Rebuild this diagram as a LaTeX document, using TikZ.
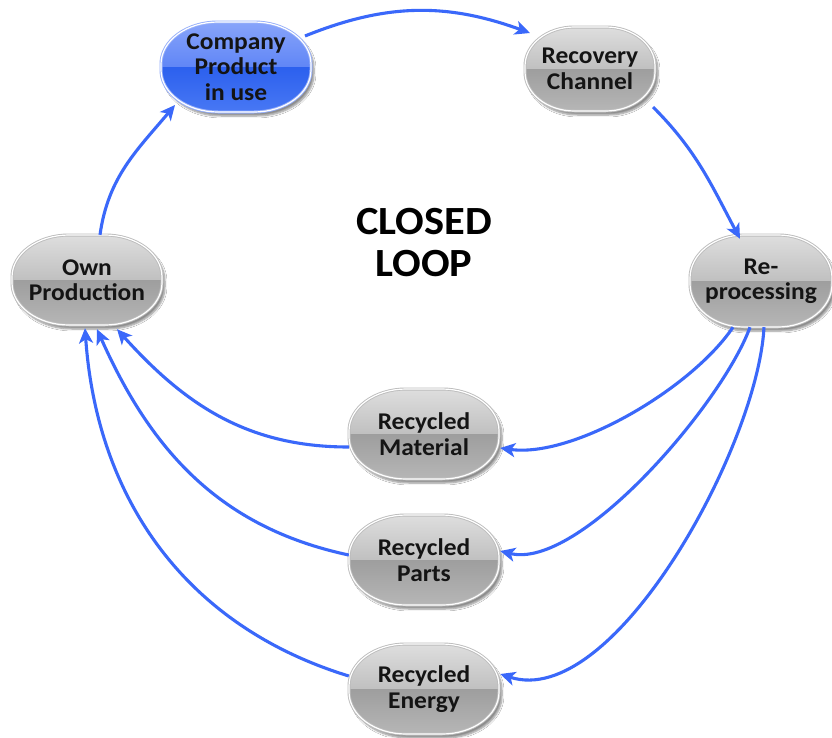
\documentclass[tikz,border=0pt]{standalone}
\usepackage{fontspec}
\setmainfont{Carlito}[FakeStretch=1.06]
\usetikzlibrary{shadows.blur,arrows.meta,calc}
\definecolor{arrowblue}{RGB}{58,104,250}
\definecolor{gA}{RGB}{222,222,222}
\definecolor{gB}{RGB}{192,192,192}
\definecolor{gC}{RGB}{158,158,158}
\definecolor{gD}{RGB}{182,182,182}
\definecolor{gRing}{RGB}{188,188,188}
\definecolor{bA}{RGB}{136,164,250}
\definecolor{bB}{RGB}{96,134,246}
\definecolor{bC}{RGB}{44,96,238}
\definecolor{bD}{RGB}{72,120,244}
\definecolor{bRing}{RGB}{150,175,250}
% oval outline centred at the origin: #1 half width, #2 half height
\newcommand\ovalshape[2]{(-#1+\orx,#2) -- (#1-\orx,#2)
 .. controls ({#1-0.448*\orx},#2) and (#1,{#2-0.448*\ory}) .. (#1,#2-\ory)
 -- (#1,-#2+\ory)
 .. controls (#1,{-#2+0.448*\ory}) and ({#1-0.448*\orx},-#2) .. (#1-\orx,-#2)
 -- (-#1+\orx,-#2)
 .. controls ({-#1+0.448*\orx},-#2) and (-#1,{-#2+0.448*\ory}) .. (-#1,-#2+\ory)
 -- (-#1,#2-\ory)
 .. controls (-#1,{#2-0.448*\ory}) and ({-#1+0.448*\orx},#2) .. (-#1+\orx,#2) -- cycle}
% #1 name, #2 x, #3 y, #4 half width, #5 half height, #6 colour set (g/b), #7 text
\newcommand\ovalbox[7]{%
 \begin{scope}[shift={(#2,#3)}]
  \pgfmathsetmacro\orx{0.76*#4}\pgfmathsetmacro\ory{#5-3}
  \path[fill=#6C, blur shadow={shadow xshift=3pt, shadow yshift=-4pt, shadow blur steps=6, shadow opacity=45}] \ovalshape{#4}{#5};
  \begin{scope}
   \clip \ovalshape{#4}{#5};
   \fill[top color=#6A, bottom color=#6B] (-#4,#5) rectangle (#4,0);
   \fill[top color=#6C, bottom color=#6D] (-#4,0) rectangle (#4,-#5);
  \end{scope}
  \draw[draw=#6Ring, line width=0.9pt, double=white, double distance=1.2pt] \ovalshape{#4}{#5};
 \end{scope}
 \node[boxtext, minimum width=2*#4, minimum height=2*#5] (#1) at (#2,#3) {#7};}
\tikzset{
  boxtext/.style={rectangle, inner sep=0pt, align=center, text=black!92,
    font=\fontsize{24}{25.5}\selectfont\bfseries},
  flow/.style={draw=arrowblue, line width=3.1pt, -{Stealth[length=15pt,width=14pt,inset=4pt]}}
}
\begin{document}
\begin{tikzpicture}[x=1pt,y=1pt]
\useasboundingbox[fill=white] (0,0) rectangle (832,-737);
\ovalbox{comp}{236}{-67}{75}{45}{b}{Company\\Product\\in use}
\ovalbox{rec}{590}{-69}{65}{42}{g}{Recovery\\Channel}
\ovalbox{own}{87}{-280}{75}{45}{g}{Own\\Production}
\ovalbox{rep}{761}{-281}{71}{46}{g}{Re-\\processing}
\ovalbox{mat}{424}{-434}{75}{45}{g}{Recycled\\Material}
\ovalbox{par}{424}{-560}{75}{45}{g}{Recycled\\Parts}
\ovalbox{ene}{424}{-689}{75}{45}{g}{Recycled\\Energy}
\node[font=\fontsize{40}{42}\selectfont\bfseries, align=center] (title) at (424,-243) {CLOSED\\LOOP};

\draw[flow] ($(own.north)+(13,0)$) to[out=82, in=-130] ($(comp.center)+(-61,-38)$);
\draw[flow] ($(comp.center)+(69,31)$) to[out=22, in=160] ($(rec.center)+(-60,36)$);
\draw[flow] ($(rec.center)+(63,-38)$) to[out=-45, in=118] ($(rep.north)+(-21,-4)$);

\draw[flow] ($(rep.south)+(-28,0)$) to[out=-124, in=-8, looseness=0.72] ($(mat.east)+(1,-14)$);
\draw[flow] ($(rep.south)+(-11,0)$) to[out=-110, in=-14, looseness=0.62] ($(par.east)+(1,9)$);
\draw[flow] ($(rep.south)+(3,0)$) to[out=-93, in=-18, looseness=0.7] ($(ene.east)+(1,15)$);

\draw[flow] ($(mat.west)+(0,-13)$) to[out=180, in=-48] ($(own.south)+(30,-4)$);
\draw[flow] ($(par.west)+(0,5)$) to[out=168, in=-66] ($(own.south)+(10,-4)$);
\draw[flow] ($(ene.west)+(0,13)$) to[out=163, in=-86] ($(own.south)+(-2,-3)$);
\end{tikzpicture}
\end{document}
